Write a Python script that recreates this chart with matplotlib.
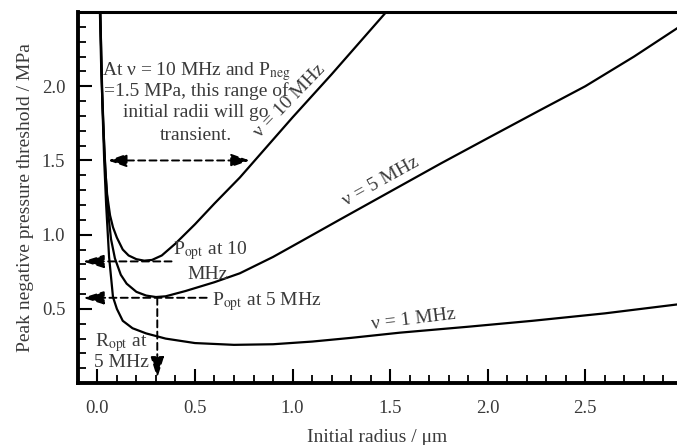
import matplotlib
matplotlib.use("Agg")
import matplotlib.pyplot as plt
from matplotlib.ticker import MultipleLocator, FixedLocator

plt.rcParams['font.family'] = ['Liberation Serif', 'DejaVu Serif']
plt.rcParams['mathtext.fontset'] = 'stix'

############################################################
# INPUT: threshold curves
############################################################

# nu = 10 MHz
r10 = [0.013, 0.02, 0.03, 0.04, 0.05, 0.065, 0.08, 0.1, 0.13, 0.16, 0.2, 0.24,
       0.28, 0.33, 0.4, 0.5, 0.6, 0.73, 0.85, 1.0, 1.2, 1.48]
p10 = [2.5, 2.1, 1.75, 1.45, 1.27, 1.13, 1.05, 0.98, 0.9, 0.86, 0.835, 0.825,
       0.83, 0.86, 0.94, 1.07, 1.21, 1.385, 1.565, 1.79, 2.08, 2.5]

# nu = 5 MHz
r5 = [0.015, 0.025, 0.035, 0.045, 0.055, 0.07, 0.09, 0.12, 0.15, 0.2, 0.25,
      0.3, 0.35, 0.45, 0.6, 0.73, 0.9, 1.05, 1.24, 1.5, 1.76, 2.0, 2.27, 2.5,
      2.75, 2.97]
p5 = [2.5, 1.95, 1.6, 1.35, 1.15, 0.97, 0.84, 0.73, 0.67, 0.615, 0.59,
      0.58, 0.585, 0.62, 0.68, 0.74, 0.85, 0.96, 1.1, 1.29, 1.48, 1.65, 1.84,
      2.0, 2.2, 2.39]

# nu = 1 MHz
r1 = [0.015, 0.025, 0.035, 0.045, 0.06, 0.08, 0.1, 0.13, 0.18, 0.25, 0.35,
      0.5, 0.7, 0.9, 1.1, 1.3, 1.55, 1.9, 2.23, 2.6, 2.97]
p1 = [2.5, 1.9, 1.5, 1.2, 0.85, 0.58, 0.5, 0.42, 0.37, 0.335, 0.3,
      0.27, 0.258, 0.262, 0.28, 0.305, 0.34, 0.38, 0.42, 0.47, 0.53]

# annotation values
p_neg = 1.5
r_range = [0.055, 0.78]
p_opt10 = 0.82
p_opt5 = 0.575
r_opt5 = 0.307

# text block lines and their baselines
note_lines = ['At \u03bd = 10 MHz and P$_{\\rm neg}$', '=1.5 MPa, this range of',
              'initial radii will go', 'transient.']
note_y = [2.074, 1.932, 1.791, 1.635]

# END INPUT
############################################################

tc = '#3a3a3a'
fs = 14

fig = plt.figure(figsize=(6.77, 4.45), dpi=100)
ax = fig.add_axes([0.115, 0.139, 0.885, 0.834])

lw = 1.6
ax.plot(r10, p10, color='black', lw=lw)
ax.plot(r5, p5, color='black', lw=lw)
ax.plot(r1, p1, color='black', lw=lw)

ax.set_xlim(-0.1, 2.97)
ax.set_ylim(0, 2.5)

for s in ['left', 'bottom']:
    ax.spines[s].set_linewidth(2.8)
ax.spines['top'].set_linewidth(2.2)
ax.spines['right'].set_visible(False)

ax.xaxis.set_major_locator(FixedLocator([0.0, 0.5, 1.0, 1.5, 2.0, 2.5]))
ax.xaxis.set_minor_locator(MultipleLocator(0.1))
ax.yaxis.set_major_locator(FixedLocator([0.5, 1.0, 1.5, 2.0]))
ax.yaxis.set_minor_locator(MultipleLocator(0.1))
ax.tick_params(which='major', direction='in', length=10, width=1.5,
               labelsize=13.5, labelcolor=tc, top=False, right=False)
ax.tick_params(which='minor', direction='in', length=6, width=1.3,
               top=False, right=False)
ax.tick_params(axis='x', which='major', pad=12)
ax.tick_params(axis='y', which='major', pad=9)
ax.xaxis.set_major_formatter(plt.FuncFormatter(lambda v, p: '%.1f' % v))
ax.yaxis.set_major_formatter(plt.FuncFormatter(lambda v, p: '%.1f' % v))

ax.set_xlabel('Initial radius / \u03bcm', fontsize=fs, color=tc, labelpad=9)
ax.set_ylabel('Peak negative pressure threshold / MPa', fontsize=fs, color=tc,
              labelpad=6)

dash = (0, (3.6, 2.2))
aprops = dict(arrowstyle='-|>,head_length=0.8,head_width=0.25', color='black',
              lw=1.4, ls=dash, mutation_scale=16, shrinkA=0, shrinkB=0)
bprops = dict(arrowstyle='<|-|>,head_length=0.7,head_width=0.25', color='black',
              lw=1.4, ls=dash, mutation_scale=16, shrinkA=0, shrinkB=0)

# range at 10 MHz, 1.5 MPa
ax.annotate('', xy=(r_range[0], p_neg), xytext=(r_range[1], p_neg),
            arrowprops=bprops)
for txt, yb in zip(note_lines, note_y):
    ax.text(0.505, yb, txt, ha='center', va='baseline', fontsize=fs, color=tc)

# P_opt / R_opt arrows
ax.annotate('', xy=(-0.075, p_opt10), xytext=(0.38, p_opt10), arrowprops=aprops)
ax.annotate('', xy=(-0.075, p_opt5), xytext=(0.56, p_opt5), arrowprops=aprops)
ax.annotate('', xy=(r_opt5, 0.034), xytext=(r_opt5, p_opt5), arrowprops=aprops)

ax.text(0.385, 0.865, 'P$_{\\rm opt}$ at 10', ha='left', va='baseline',
        fontsize=fs, color=tc)
ax.text(0.567, 0.70, 'MHz', ha='center', va='baseline', fontsize=fs, color=tc)
ax.text(0.587, 0.527, 'P$_{\\rm opt}$ at 5 MHz', ha='left', va='baseline',
        fontsize=fs, color=tc)
ax.text(0.125, 0.25, 'R$_{\\rm opt}$ at', ha='center', va='baseline',
        fontsize=fs, color=tc)
ax.text(0.125, 0.108, '5 MHz', ha='center', va='baseline',
        fontsize=fs, color=tc)

# curve labels
ax.text(0.985, 1.90, '\u03bd = 10 MHz', rotation=46, ha='center', va='center',
        fontsize=fs, color=tc, rotation_mode='anchor')
ax.text(1.454, 1.358, '\u03bd = 5 MHz', rotation=29, ha='center', va='center',
        fontsize=fs, color=tc, rotation_mode='anchor')
ax.text(1.62, 0.43, '\u03bd = 1 MHz', rotation=7, ha='center', va='center',
        fontsize=fs, color=tc, rotation_mode='anchor')

plt.savefig('out.png', dpi=100)
plt.close()
